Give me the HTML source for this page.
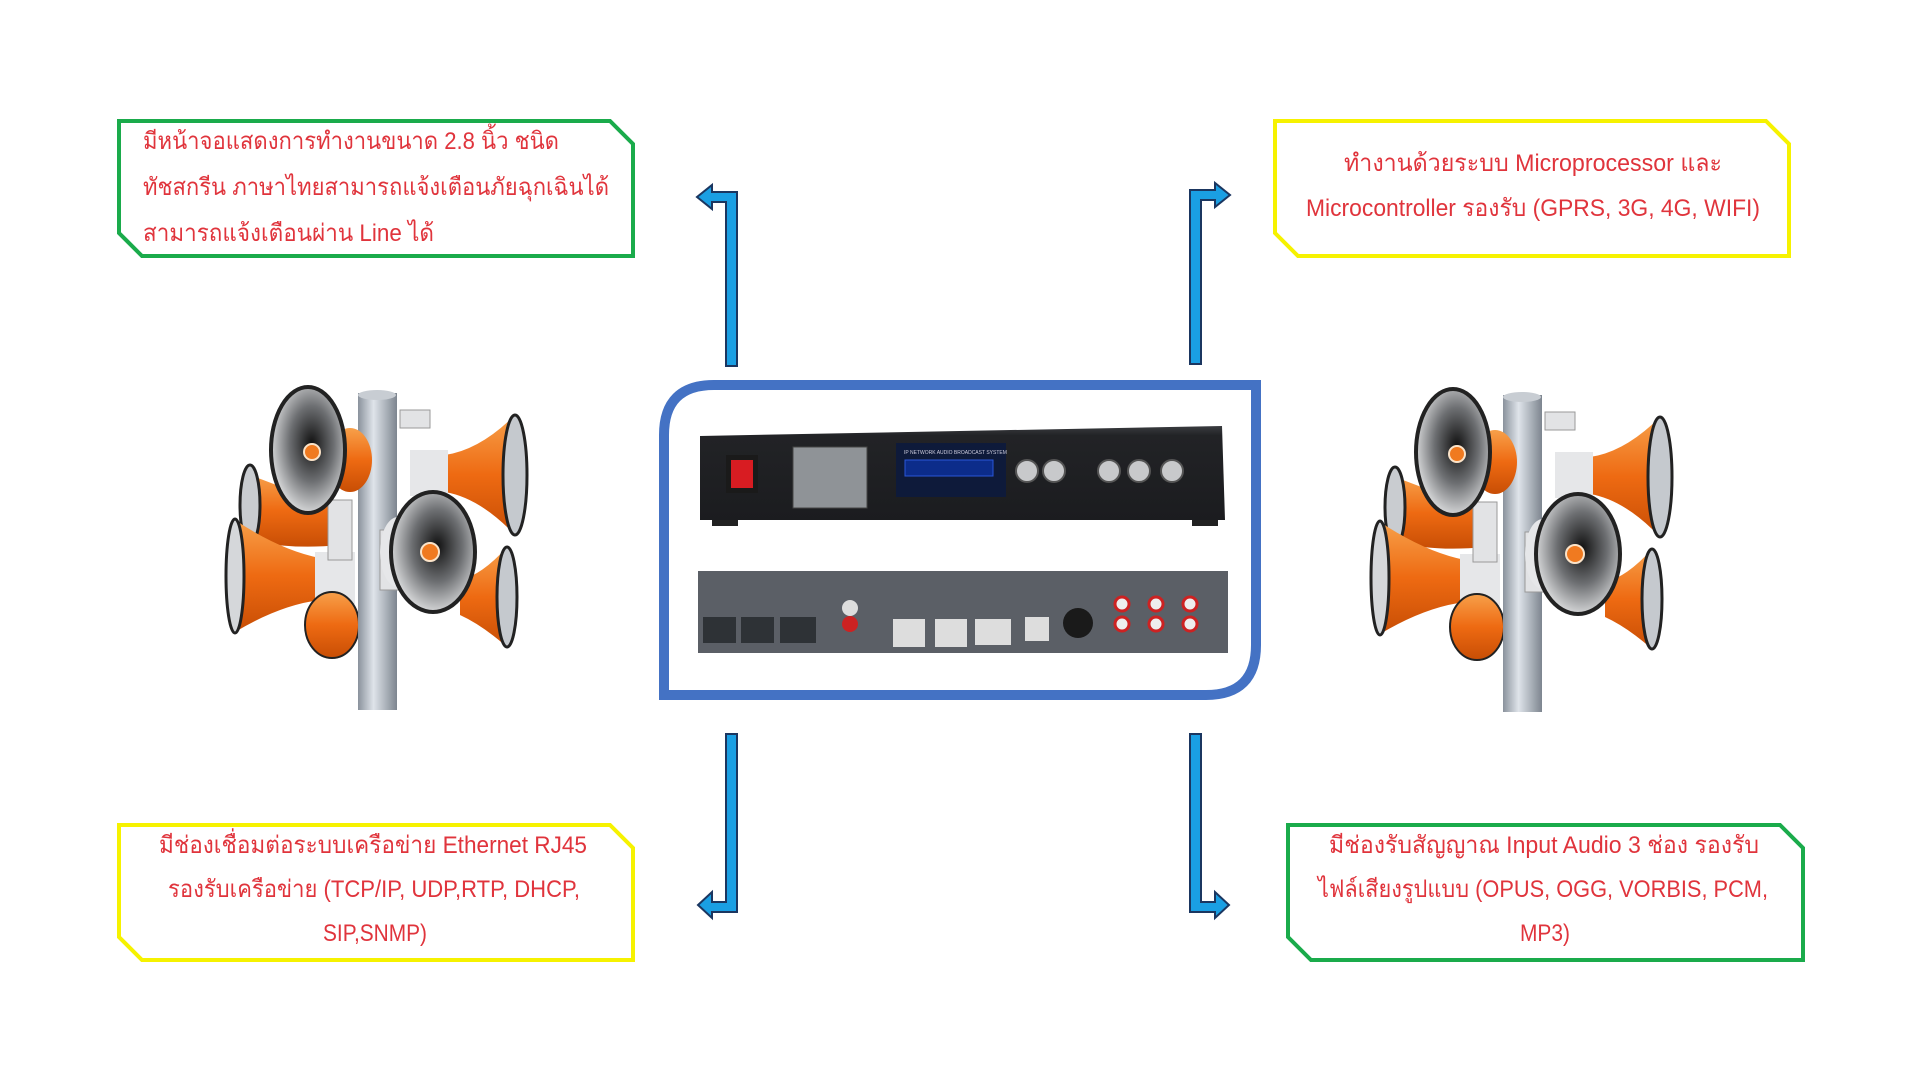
<!DOCTYPE html>
<html><head><meta charset="utf-8"><style>
html,body{margin:0;padding:0;background:#fff;width:1920px;height:1080px;overflow:hidden}
svg{display:block}
text{font-family:"Liberation Sans","Noto Sans CJK SC",sans-serif;font-size:24px;fill:#e0343c}
</style></head><body>
<svg width="1920" height="1080" viewBox="0 0 1920 1080" xmlns="http://www.w3.org/2000/svg">
<defs>
<linearGradient id="pole" x1="0" x2="1"><stop offset="0" stop-color="#8a929c"/><stop offset=".4" stop-color="#dfe4ea"/><stop offset="1" stop-color="#7d858f"/></linearGradient>
<linearGradient id="org" x1="0" y1="0" x2="0" y2="1"><stop offset="0" stop-color="#f7a04a"/><stop offset=".5" stop-color="#ee6a12"/><stop offset="1" stop-color="#c84e05"/></linearGradient>
<radialGradient id="face" cx=".55" cy=".45" r=".6"><stop offset="0" stop-color="#111"/><stop offset=".5" stop-color="#6d6f72"/><stop offset="1" stop-color="#e8e9ea"/></radialGradient>
<linearGradient id="dev" x1="0" y1="0" x2="0" y2="1"><stop offset="0" stop-color="#3a3c40"/><stop offset=".1" stop-color="#222326"/><stop offset="1" stop-color="#1b1c1f"/></linearGradient>
<g id="spk">
 <!-- back orange horns -->
 <path d="M30,95 Q70,110 120,130 L120,165 Q70,170 30,160 Z" fill="url(#org)"/>
 <ellipse cx="30" cy="125" rx="10" ry="40" fill="#c9ccd0" stroke="#222" stroke-width="3"/>
 <path d="M15,140 Q60,170 100,178 L100,220 Q60,225 15,252 Z" fill="url(#org)"/>
 <rect x="95" y="172" width="40" height="52" fill="#e6e7e9"/>
 <ellipse cx="15" cy="196" rx="9" ry="57" fill="#d5d7da" stroke="#222" stroke-width="3"/>
 <path d="M295,35 Q260,70 225,75 L225,112 Q260,118 295,155 Z" fill="url(#org)"/>
 <rect x="190" y="70" width="38" height="46" fill="#e6e7e9"/>
 <ellipse cx="295" cy="95" rx="12" ry="60" fill="#c5c9ce" stroke="#222" stroke-width="3"/>
 <path d="M287,167 Q262,195 240,200 L240,235 Q262,245 287,267 Z" fill="url(#org)"/>
 <ellipse cx="287" cy="217" rx="10" ry="50" fill="#c5c9ce" stroke="#222" stroke-width="3"/>
 <ellipse cx="112" cy="245" rx="27" ry="33" fill="url(#org)" stroke="#222" stroke-width="2"/>
 <!-- pole -->
 <rect x="138" y="13" width="39" height="317" fill="url(#pole)"/>
 <ellipse cx="157" cy="15" rx="19" ry="5" fill="#c8cdd3"/>
 <!-- brackets -->
 <rect x="108" y="120" width="24" height="60" fill="#e2e3e5" stroke="#999"/>
 <rect x="180" y="30" width="30" height="18" fill="#e2e3e5" stroke="#999"/>
 <rect x="160" y="150" width="30" height="60" fill="#e2e3e5" stroke="#999"/>
 <!-- front horn 1 -->
 <ellipse cx="130" cy="80" rx="22" ry="32" fill="url(#org)"/>
 <ellipse cx="88" cy="70" rx="37" ry="63" fill="url(#face)" stroke="#222" stroke-width="4"/>
 <circle cx="92" cy="72" r="8" fill="#f07a20" stroke="#fbe3c8" stroke-width="2"/>
 <!-- front horn 2 -->
 <ellipse cx="178" cy="172" rx="18" ry="35" fill="#e6e7e9"/>
 <ellipse cx="213" cy="172" rx="42" ry="60" fill="url(#face)" stroke="#222" stroke-width="4"/>
 <circle cx="210" cy="172" r="9" fill="#f07a20" stroke="#fbe3c8" stroke-width="2"/>
</g>
</defs>

<!-- boxes -->
<polygon points="119,121 610,121 633,144 633,256 142,256 119,233" fill="#fff" stroke="#1aab4b" stroke-width="4"/>
<polygon points="1275,121 1766,121 1789,144 1789,256 1298,256 1275,233" fill="#fff" stroke="#f6f200" stroke-width="4"/>
<polygon points="119,825 610,825 633,848 633,960 142,960 119,937" fill="#fff" stroke="#f6f200" stroke-width="4"/>
<polygon points="1288,825 1780,825 1803,848 1803,960 1311,960 1288,937" fill="#fff" stroke="#1aab4b" stroke-width="4"/>

<text x="143" y="149" textLength="416" lengthAdjust="spacingAndGlyphs">มีหน้าจอแสดงการทำงานขนาด 2.8 นิ้ว ชนิด</text>
<text x="143" y="195" textLength="466" lengthAdjust="spacingAndGlyphs">ทัชสกรีน ภาษาไทยสามารถแจ้งเตือนภัยฉุกเฉินได้</text>
<text x="143" y="241" textLength="291" lengthAdjust="spacingAndGlyphs">สามารถแจ้งเตือนผ่าน Line ได้</text>

<text x="1344" y="171" textLength="378" lengthAdjust="spacingAndGlyphs">ทำงานด้วยระบบ Microprocessor และ</text>
<text x="1306" y="216" textLength="454" lengthAdjust="spacingAndGlyphs">Microcontroller รองรับ (GPRS, 3G, 4G, WIFI)</text>

<text x="159" y="853" textLength="428" lengthAdjust="spacingAndGlyphs">มีช่องเชื่อมต่อระบบเครือข่าย Ethernet RJ45</text>
<text x="168" y="897" textLength="412" lengthAdjust="spacingAndGlyphs">รองรับเครือข่าย (TCP/IP, UDP,RTP, DHCP,</text>
<text x="323" y="941" textLength="104" lengthAdjust="spacingAndGlyphs">SIP,SNMP)</text>

<text x="1329" y="853" textLength="430" lengthAdjust="spacingAndGlyphs">มีช่องรับสัญญาณ Input Audio 3 ช่อง รองรับ</text>
<text x="1318" y="897" textLength="450" lengthAdjust="spacingAndGlyphs">ไฟล์เสียงรูปแบบ (OPUS, OGG, VORBIS, PCM,</text>
<text x="1520" y="941" textLength="50" lengthAdjust="spacingAndGlyphs">MP3)</text>

<!-- arrows -->
<g fill="#1a9fe3" stroke="#1b3660" stroke-width="2" stroke-linejoin="miter">
<polygon points="737,366 737,192 712,192 712,185 697,197 712,209 712,202 726,202 726,366"/>
<polygon points="1190,364 1190,190 1215,190 1215,183 1230,195 1215,207 1215,200 1201,200 1201,364"/>
<polygon points="737,734 737,912 712,912 712,918 698,905 712,892 712,902 726,902 726,734"/>
<polygon points="1190,734 1190,912 1215,912 1215,918 1229,905 1215,892 1215,902 1201,902 1201,734"/>
</g>

<!-- center frame -->
<path d="M664,695 L664,435 Q664,385 714,385 L1256,385 L1256,645 Q1256,695 1206,695 Z" fill="#fff" stroke="#4472c4" stroke-width="10"/>

<!-- top device -->
<rect x="712" y="518" width="26" height="8" fill="#222"/>
<rect x="1192" y="518" width="26" height="8" fill="#222"/>
<polygon points="700,436 1222,426 1225,520 700,520" fill="url(#dev)"/>
<rect x="726" y="455" width="32" height="38" fill="#1a1a1a"/>
<rect x="731" y="460" width="22" height="28" fill="#d81c22"/>
<rect x="793" y="447" width="74" height="61" fill="#8f9397" stroke="#444"/>
<rect x="896" y="443" width="110" height="54" fill="#0e1a3a"/>
<rect x="905" y="460" width="88" height="16" fill="#0c2c8a" stroke="#2a56d8"/>
<text x="904" y="454" style="font-size:5px;fill:#ccd">IP NETWORK AUDIO BROADCAST SYSTEM</text>
<g fill="#c8c9cb" stroke="#555" stroke-width="2">
<circle cx="1027" cy="471" r="11"/><circle cx="1054" cy="471" r="11"/>
<circle cx="1109" cy="471" r="11"/><circle cx="1139" cy="471" r="11"/><circle cx="1172" cy="471" r="11"/>
</g>

<!-- bottom panel -->
<rect x="698" y="571" width="530" height="82" fill="#5b5f66"/>
<g fill="#2e3236"><rect x="703" y="617" width="33" height="26"/><rect x="741" y="617" width="33" height="26"/><rect x="780" y="617" width="36" height="26"/></g>
<g fill="#ddd"><rect x="893" y="619" width="32" height="28"/><rect x="935" y="619" width="32" height="28"/><rect x="975" y="619" width="36" height="26"/><rect x="1025" y="617" width="24" height="24"/></g>
<circle cx="850" cy="608" r="8" fill="#ddd"/><circle cx="850" cy="624" r="8" fill="#c22"/>
<circle cx="1078" cy="623" r="15" fill="#1a1a1a"/>
<g fill="#eee" stroke="#c22" stroke-width="3">
<circle cx="1122" cy="604" r="7"/><circle cx="1156" cy="604" r="7"/><circle cx="1190" cy="604" r="7"/>
<circle cx="1122" cy="624" r="7"/><circle cx="1156" cy="624" r="7"/><circle cx="1190" cy="624" r="7"/>
</g>

<!-- speakers -->
<use href="#spk" transform="translate(220,380)"/>
<use href="#spk" transform="translate(1365,382)"/>
</svg>
</body></html>
